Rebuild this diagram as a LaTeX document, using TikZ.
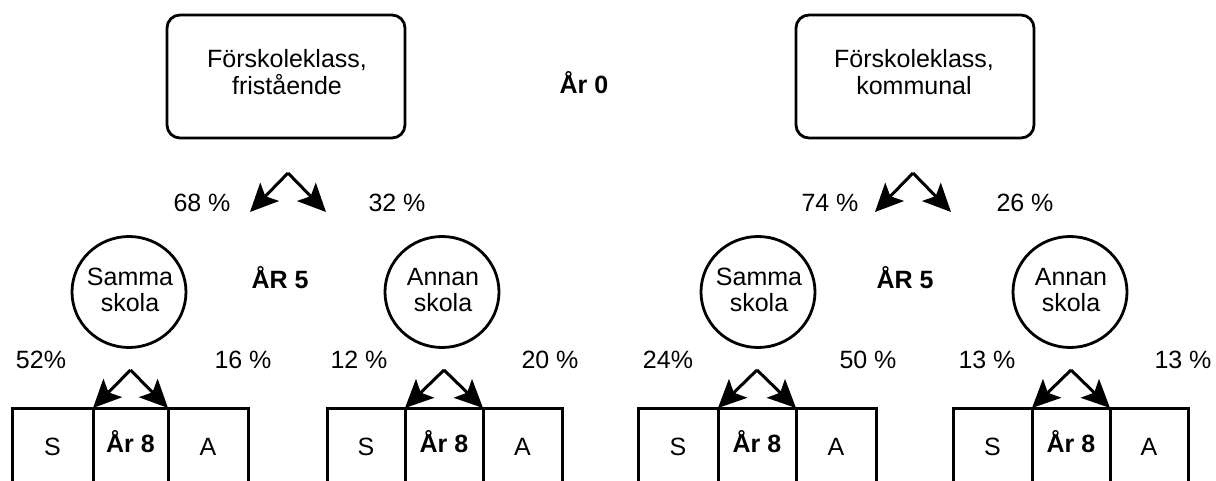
\documentclass[tikz,border=0pt]{standalone}
\usepackage{fontspec}
\setmainfont{Liberation Sans}
\usetikzlibrary{shapes.geometric,arrows.meta}
\tikzset{
  txt/.style={inner sep=0pt, anchor=base, font=\fontsize{25}{27}\selectfont, align=center},
  ctxt/.style={inner sep=0pt, anchor=base, font=\fontsize{25}{26}\selectfont, align=center},
  btxt/.style={inner sep=0pt, anchor=base, font=\fontsize{25}{27}\selectfont\bfseries},
  topbox/.style={draw, line width=2.8pt, rounded corners=13pt, minimum width=238pt, minimum height=123pt, inner sep=0pt, outer sep=0pt},
  school/.style={draw, ellipse, line width=2.8pt, minimum width=114pt, minimum height=111pt, inner sep=0pt, outer sep=0pt},
  cell/.style={draw, line width=3pt, inner sep=0pt, outer sep=0pt, minimum height=110pt},
  arr/.style={line width=3pt, -{Stealth[length=28pt,width=26pt,inset=6pt]}}
}
\begin{document}
\begin{tikzpicture}[x=1pt,y=-1pt]
\useasboundingbox (0,0) rectangle (1216,481);
\clip (0,0) rectangle (1216,481);
% top boxes
\node[topbox] (fri) at (286,76.5) {};
\node[txt] (fritxt) at (287,95) {Förskoleklass,\\fristående};
\node[topbox] (kom) at (915,76.5) {};
\node[txt] (komtxt) at (914,95) {Förskoleklass,\\kommunal};
\node[btxt] (ar0) at (584,94) {År 0};
% top arrows
\coordinate (tap1) at (288,173);
\coordinate (tl1) at (250,212);
\coordinate (tr1) at (326,212);
\coordinate (tap2) at (913,173);
\coordinate (tl2) at (875,212);
\coordinate (tr2) at (951,212);
\draw[arr] (tap1) -- (tl1);
\draw[arr] (tap1) -- (tr1);
\draw[arr] (tap2) -- (tl2);
\draw[arr] (tap2) -- (tr2);
\node[txt] (p68) at (202,212) {68 \%};
\node[txt] (p32) at (397,212) {32 \%};
\node[txt] (p74) at (830,212) {74 \%};
\node[txt] (p26) at (1025,212) {26 \%};
% circles
\node[school] (c1) at (129,292) {};
\node[ctxt] (c1t) at (130,311) {Samma\\skola};
\node[school] (c2) at (442,292) {};
\node[ctxt] (c2t) at (443,311) {Annan\\skola};
\node[school] (c3) at (758,292) {};
\node[ctxt] (c3t) at (759,311) {Samma\\skola};
\node[school] (c4) at (1070,292) {};
\node[ctxt] (c4t) at (1071,311) {Annan\\skola};
\node[btxt] (ar5a) at (280,288) {ÅR 5};
\node[btxt] (ar5b) at (905,288) {ÅR 5};
% bottom percentages
\node[txt] (p52) at (41,368) {52\%};
\node[txt] (p16) at (243,368) {16 \%};
\node[txt] (p12) at (359,368) {12 \%};
\node[txt] (p20) at (550,368) {20 \%};
\node[txt] (p24) at (668,368) {24\%};
\node[txt] (p50) at (868,368) {50 \%};
\node[txt] (p13a) at (987,368) {13 \%};
\node[txt] (p13b) at (1183,368) {13 \%};
% bottom boxes and arrows
\foreach \i/\l/\m/\n/\r in {1/12/93/168/248, 2/327/405/483/562, 3/638/718/796/876, 4/953/1032/1110/1188} {
  \node[cell, anchor=north west, minimum width={(\m-\l)*1pt}] (s\i) at (\l,408) {};
  \node[cell, anchor=north west, minimum width={(\n-\m)*1pt}] (y\i) at (\m,408) {};
  \node[cell, anchor=north west, minimum width={(\r-\n)*1pt}] (a\i) at (\n,408) {};
  \node[txt] (sl\i) at ({(\l+\m)/2},455) {S};
  \node[btxt] (yl\i) at ({(\m+\n)/2},452) {År 8};
  \node[txt] (al\i) at ({(\n+\r)/2},455) {A};
  \coordinate (ap\i) at ({(\m+\n)/2},370);
  \draw[arr] (ap\i) -- (s\i.north east);
  \draw[arr] (ap\i) -- (a\i.north west);
}
\end{tikzpicture}
\end{document}
